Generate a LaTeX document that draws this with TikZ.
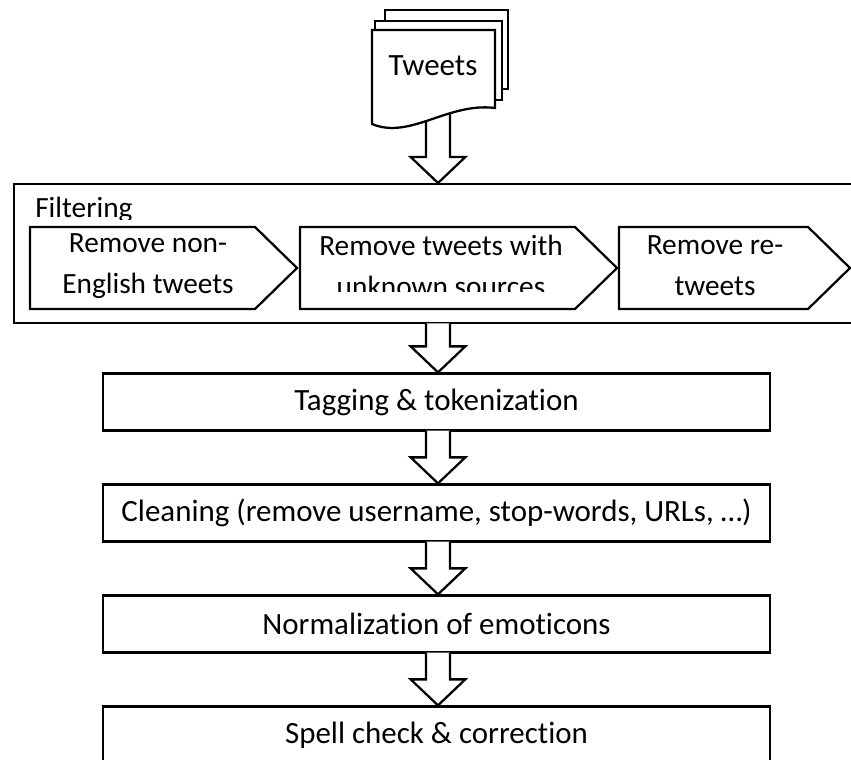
\documentclass[tikz,border=0pt]{standalone}
\usepackage{fontspec}
\setmainfont{Carlito}[Ligatures=NoCommon]
\usetikzlibrary{calc}

\newcommand\fatarrow[2]{%
  \draw[fat] let \p1=(#1 -| ax), \p2=(#2 -| ax) in
    (\x1-9pt,\y1+0.75pt) -- (\x1-9pt,\y2+19.5pt) -- (\x1-20.5pt,\y2+19.5pt) -- (\x2,\y2)
    -- (\x1+20.5pt,\y2+19.5pt) -- (\x1+9pt,\y2+19.5pt) -- (\x1+9pt,\y1+0.75pt);}

\begin{document}
\begin{tikzpicture}[x=0.75pt,y=-0.75pt,
  font=\fontsize{22}{31}\selectfont,
  ln/.style={line width=1.7pt,line join=miter},
  sheet/.style={ln,draw,fill=white},
  stage/.style={ln,draw,fill=white,minimum width=500.25pt,minimum height=42.75pt,inner sep=0,
    font=\fontsize{23.2}{31}\selectfont},
  chev/.style={ln,draw,fill=white},
  fat/.style={ln,draw,fill=white}]
\useasboundingbox (0,0) rectangle (851,760);
\coordinate (ax) at (438,0);
% filtering group
\node[ln,draw,anchor=north west,minimum width=652.5pt,minimum height=104.25pt,inner sep=0] (filter) at (13,183) {};
\begin{scope}
  \clip (15,185) rectangle (300,219);
  \node[anchor=base west,inner sep=0] (filterlbl) at (35,217) {Filtering};
\end{scope}
\foreach \l/\r [count=\i] in {30/297,300/617,619/850}
  \draw[chev] (\l,227) -- (\r-42,227) -- (\r,268) -- (\r-42,309) -- (\l,309) -- cycle;
\node[align=center] (f1) at (148,266) {Remove non-\\English tweets};
\begin{scope}
  \clip (300,227) rectangle (617,291);
  \node[align=center] (f2) at (441,266) {Remove tweets with\\unknown sources};
\end{scope}
\node[align=center] (f3) at (715,266) {Remove re-\\tweets};

% tweets
\coordinate (docout) at (438,105);
\fatarrow{docout}{filter.north}
\draw[sheet] (385,10) rectangle (508,89);
\draw[sheet] (375,21) rectangle (502,100);
\draw[sheet] (372,30) -- (495,30) -- (495,108) .. controls (448,102) and (410,140) .. (372,124) -- cycle;
\node[anchor=base,font=\fontsize{23.2}{31}\selectfont] (tweets) at (433,75) {Tweets};

% pipeline
\foreach \t [count=\i] in {Tagging \& tokenization, {Cleaning (remove username, stop-words, URLs, …)}, Normalization of emoticons, Spell check \& correction}
  \node[stage] (s\i) at (436.5,{402+111*(\i-1)}) {\t};
\fatarrow{filter.south}{s1.north}
\foreach \a/\b in {1/2,2/3,3/4}{
  \fatarrow{s\a.south}{s\b.north}
}
\end{tikzpicture}
\end{document}
